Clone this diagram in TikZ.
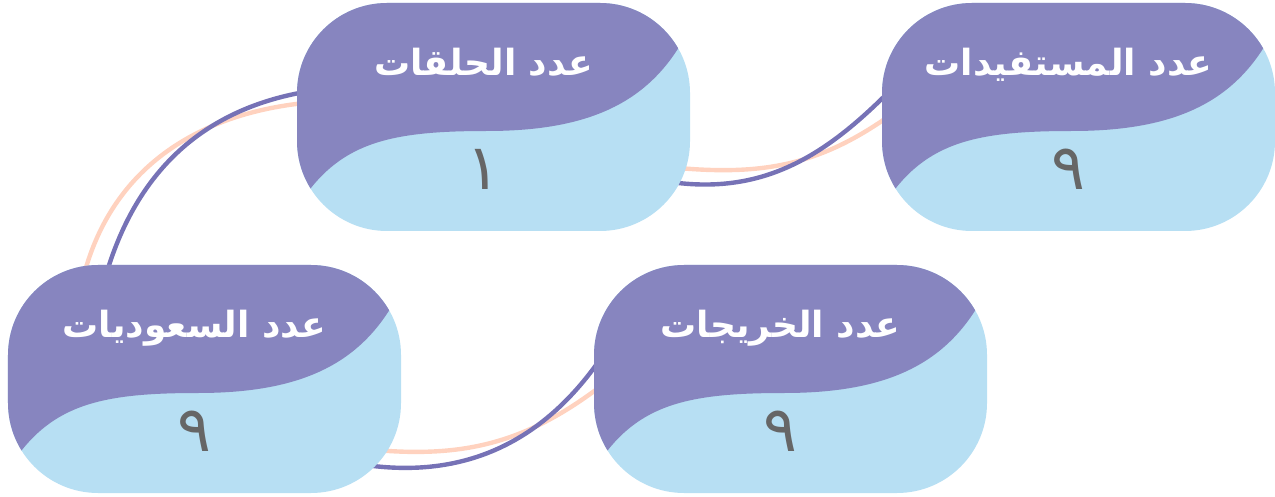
\documentclass[tikz,border=0pt]{standalone}
\usepackage{fontspec}
\newfontfamily\arabicfont[Script=Arabic]{DejaVu Sans}
\TeXXeTstate=1
\usetikzlibrary{positioning,calc,backgrounds}

\definecolor{cardpurple}{RGB}{135,133,191}
\definecolor{cardblue}{RGB}{183,223,243}
\definecolor{linkpurple}{RGB}{118,114,182}
\definecolor{linkpeach}{RGB}{255,210,191}
\definecolor{digitgray}{RGB}{102,102,102}

\begin{document}
\begin{tikzpicture}[on grid,
                card/.style={rectangle, rounded corners=1.8cm, minimum width=7.86cm, minimum height=4.56cm, inner sep=0pt, fill=cardblue,
                  path picture={\fill[cardpurple, sharp corners, x=0.02cm, y=0.02cm]
                    (-206.5,124) -- (-206.5,-106) -- (-196.5,-91) .. controls (-156.5,-26) and (-106.5,-14) .. (-6.5,-14)
                    .. controls (103.5,-14) and (163.5,19) .. (198.5,94) -- (208.5,124) -- cycle;}},
                title/.style={anchor=base, text=white, font=\arabicfont\bfseries\fontsize{20.5}{25}\selectfont},
                value/.style={text=digitgray, font=\arabicfont\fontsize{36}{42}\selectfont},
                link/.style={line width=2.5pt, draw=linkpurple},
                linkb/.style={line width=2.5pt, draw=linkpeach}]
                \useasboundingbox (0,0) rectangle (25.5,-9.94);
                \node[card] (hal) at (9.87,-2.34) {};
                \node[card, right=11.7cm of hal] (mus) {};
                \node[card, below left=5.24cm and 5.78cm of hal] (sau) {};
                \node[card, right=11.72cm of sau] (khr) {};

                \node[title] (hal-t) at ($(hal.north)+(-0.2,-1.46)$) {\beginR عدد الحلقات\endR};
                \node[title] (mus-t) at ($(mus.north)+(-0.2,-1.46)$) {\beginR عدد المستفيدات\endR};
                \node[title] (sau-t) at ($(sau.north)+(-0.2,-1.46)$) {\beginR عدد السعوديات\endR};
                \node[title] (khr-t) at ($(khr.north)+(-0.2,-1.46)$) {\beginR عدد الخريجات\endR};

                \node[value, below left=1.05cm and 0.2cm of hal] (hal-v) {١};
                \node[value, below left=1.05cm and 0.2cm of mus] (mus-v) {٩};
                \node[value, below left=1.05cm and 0.2cm of sau] (sau-v) {٩};
                \node[value, below left=1.05cm and 0.2cm of khr] (khr-v) {٩};

                \begin{scope}[on background layer]
                \path
                          ($(hal.west)+(0.16,0.28)$) edge[linkb, out=186, in=75] ($(sau.north)+(-2.41,-0.2)$)
                          ($(hal.west)+(0.16,0.5)$) edge[link, out=190, in=73] ($(sau.north)+(-1.95,-0.14)$)
                          ($(hal.east)+(-0.24,-1.02)$) edge[linkb, out=-5, in=215] ($(mus.west)+(0.12,0)$)
                          ($(hal.east)+(-0.4,-1.3)$) edge[link, out=-8, in=225] ($(mus.west)+(0.12,0.48)$)
                          ($(sau.east)+(-0.52,-1.42)$) edge[linkb, out=-5, in=217] ($(khr.west)+(0.12,-0.16)$)
                          ($(sau.east)+(-0.72,-1.72)$) edge[link, out=-8, in=235] ($(khr.west)+(0.12,0.38)$);
                \end{scope}
            \end{tikzpicture}
\end{document}
